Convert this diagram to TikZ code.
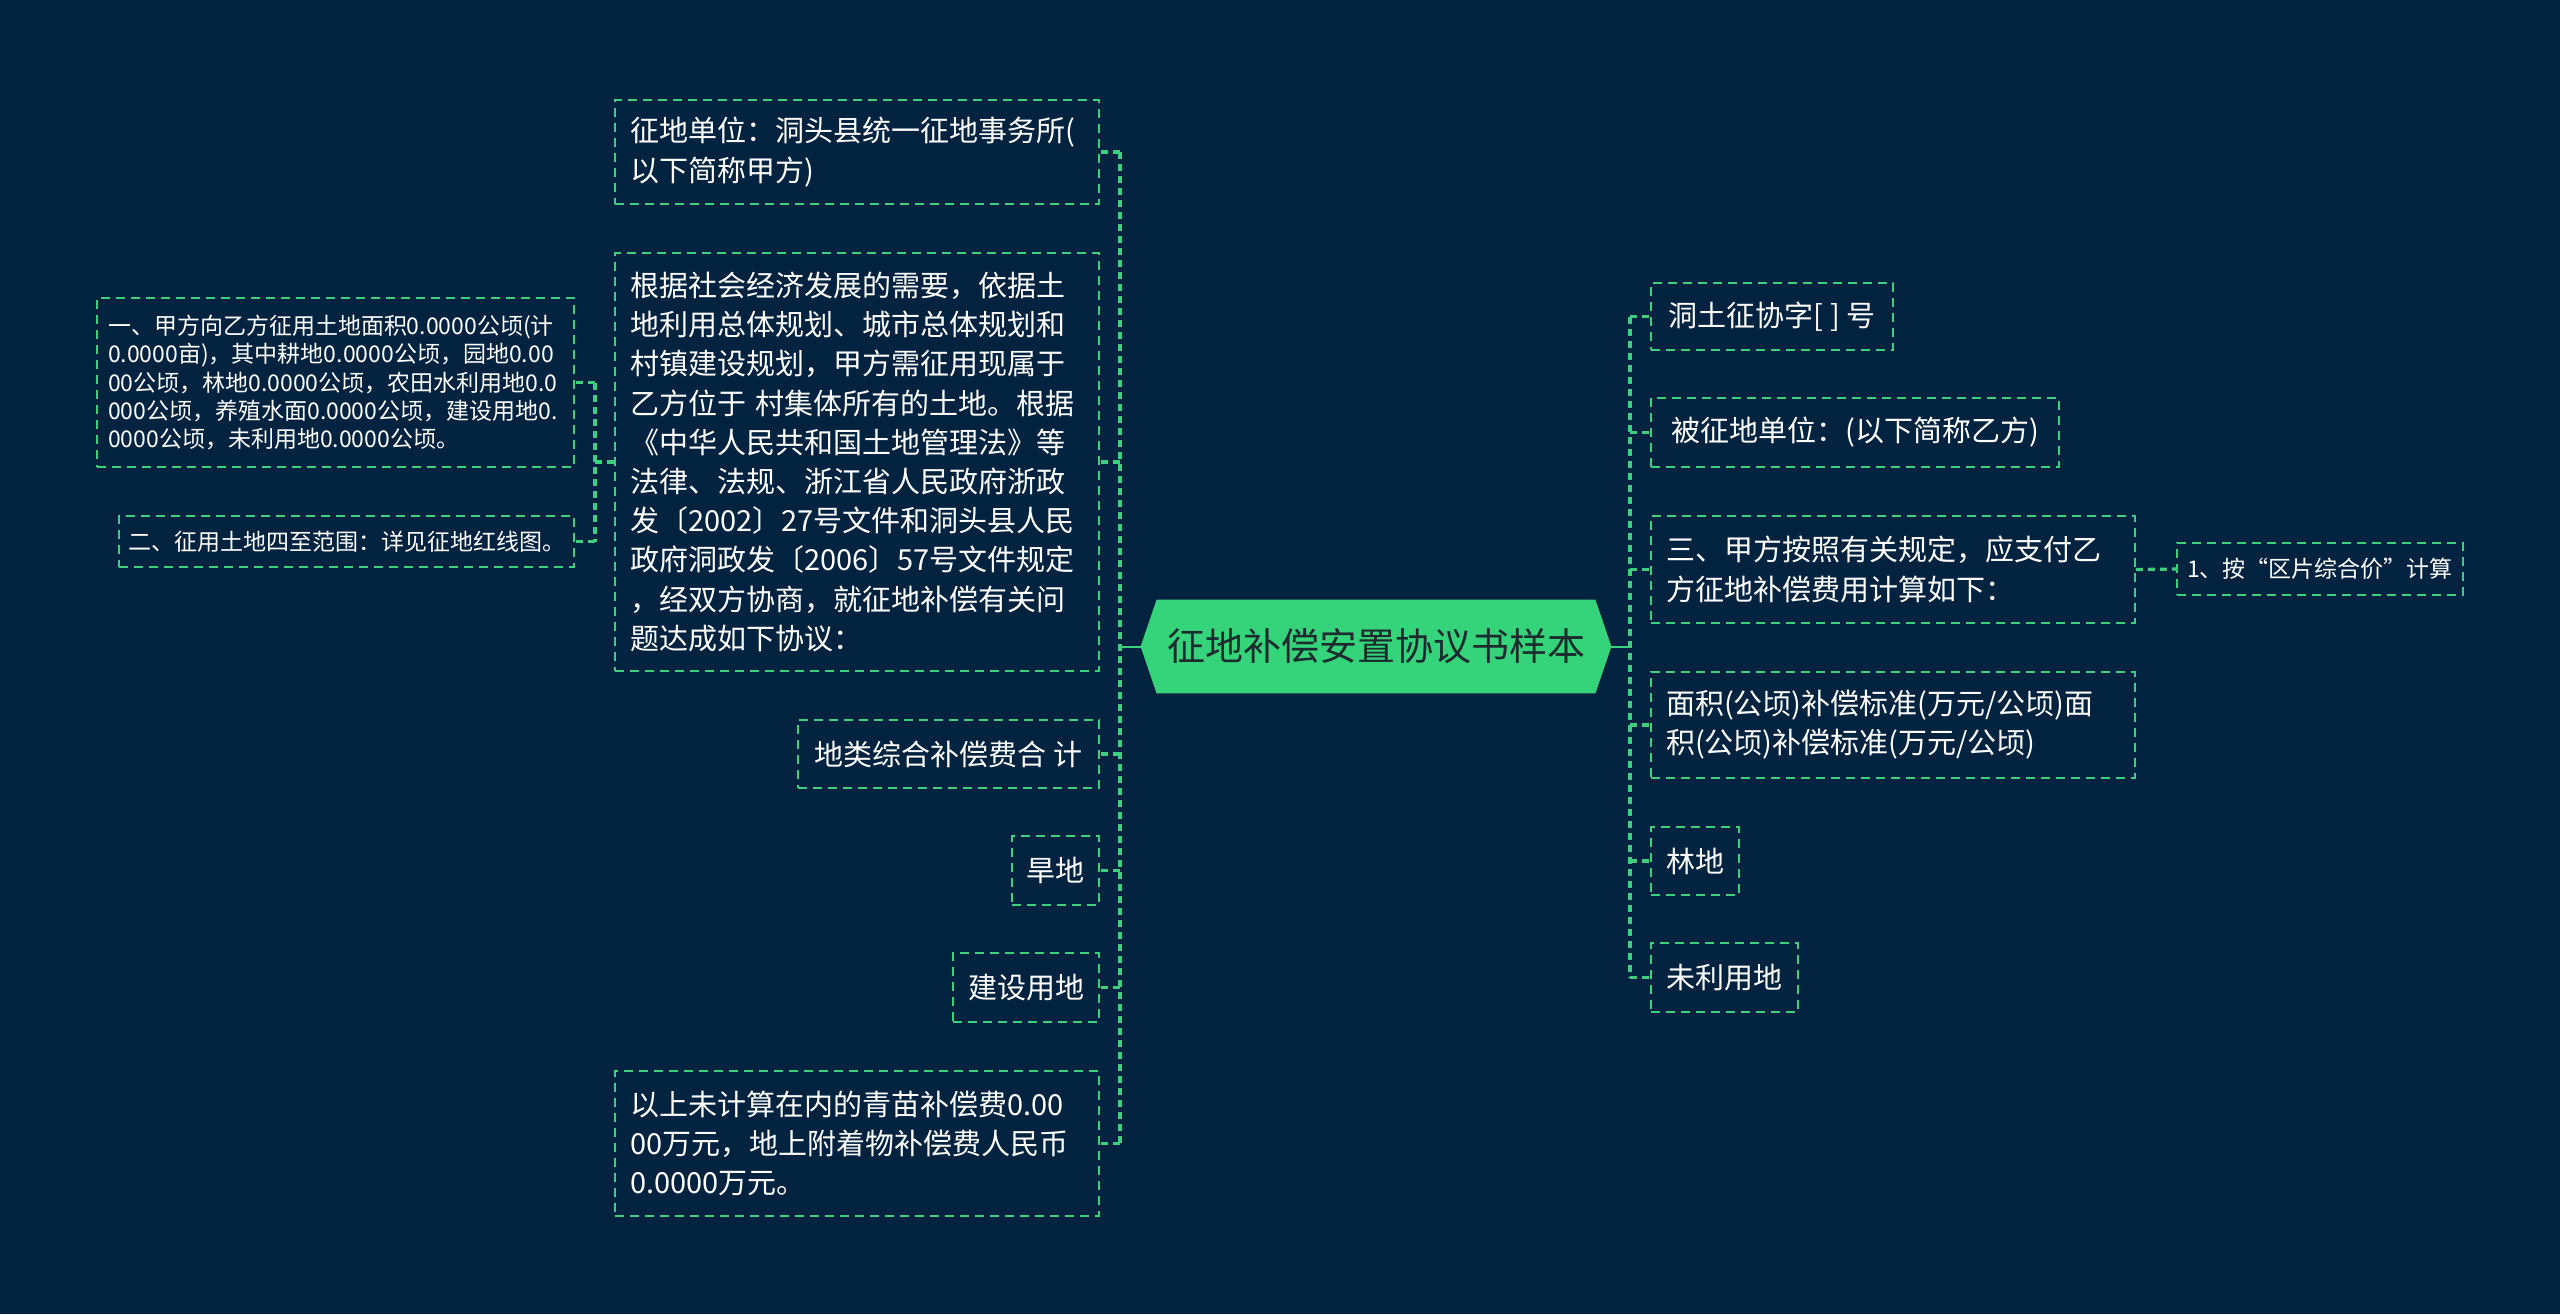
\documentclass[tikz,border=0pt]{standalone}
\usepackage{fontspec}
\setmainfont{Noto Sans CJK SC}
\usetikzlibrary{backgrounds}
\definecolor{bgc}{HTML}{022340}
\definecolor{lineg}{HTML}{3BCF7E}
\definecolor{hexg}{HTML}{35D47B}
\definecolor{hextext}{HTML}{1C2B2E}
\begin{document}
\begin{tikzpicture}[x=0.5pt,y=-0.5pt,
  wh/.style 2 args={minimum width=#1*0.5pt, minimum height=#2*0.5pt},
  box/.style={draw=lineg, line width=0.9pt, dash pattern=on 4.5pt off 3pt, text=white, align=left, inner sep=0pt, font=\fontsize{14.5pt}{19.6pt}\selectfont},
  sbox/.style={box, font=\fontsize{11.5pt}{14.2pt}\selectfont},
  wide/.style={text width=227pt, inner xsep=7.5pt},
  trunk/.style={draw=lineg, line width=1.6pt, dash pattern=on 3.5pt off 2.5pt},
  link/.style={draw=lineg, line width=1pt},
  rootnode/.style={text=hextext, inner sep=0pt, font=\fontsize{19pt}{22pt}\selectfont}
]
\useasboundingbox (0,0) rectangle (2560,1314);

% root
\node[rootnode, wh={470}{93}] (root) at (1376,646.5) {征地补偿安置协议书样本};

% left children
\node[box, wide, wh={484}{104}] (b1) at (857,152) {征地单位：洞头县统一征地事务所(\\以下简称甲方)};
\node[box, wide, wh={484}{418}] (b2) at (857,462) {根据社会经济发展的需要，依据土\\地利用总体规划、城市总体规划和\\村镇建设规划，甲方需征用现属于\\乙方位于~村集体所有的土地。根据\\《中华人民共和国土地管理法》等\\法律、法规、浙江省人民政府浙政\\发〔2002〕27号文件和洞头县人民\\政府洞政发〔2006〕57号文件规定\\，经双方协商，就征地补偿有关问\\题达成如下协议：};
\node[box, wh={301}{68}] (b3) at (948.5,754) {地类综合补偿费合~计};
\node[box, wh={87}{69}] (b4) at (1055.5,870.5) {旱地};
\node[box, wh={146}{69}] (b5) at (1026,987.5) {建设用地};
\node[box, wide, wh={484}{145}] (b6) at (857,1143.5) {以上未计算在内的青苗补偿费0.00\\00万元，地上附着物补偿费人民币\\0.0000万元。};

% grandchildren
\node[sbox, text width=227.5pt, inner xsep=5.5pt, wh={477}{169}] (c1) at (335.5,382.5) {一、甲方向乙方征用土地面积0.0000公顷(计\\0.0000亩)，其中耕地0.0000公顷，园地0.00\\00公顷，林地0.0000公顷，农田水利用地0.0\\000公顷，养殖水面0.0000公顷，建设用地0.\\0000公顷，未利用地0.0000公顷。};
\node[sbox, wh={455}{51}] (c2) at (346.5,541.5) {二、征用土地四至范围：详见征地红线图。};

% right children
\node[box, wh={242}{67}] (r1) at (1772,316.5) {洞土征协字[ ] 号};
\node[box, wh={408}{69}] (r2) at (1855,432.5) {被征地单位：(以下简称乙方)};
\node[box, wide, wh={484}{107}] (r3) at (1893,569.5) {三、甲方按照有关规定，应支付乙\\方征地补偿费用计算如下：};
\node[sbox, wh={286}{52}] (r3a) at (2320,569) {1、按“区片综合价”计算};
\node[box, wide, wh={484}{106}] (r4) at (1893,725) {面积(公顷)补偿标准(万元/公顷)面\\积(公顷)补偿标准(万元/公顷)};
\node[box, wh={88}{68}] (r5) at (1695,861) {林地};
\node[box, wh={147}{69}] (r6) at (1724.5,977.5) {未利用地};

% connectors
\coordinate (LT) at (1120,646.5);
\coordinate (RT) at (1630,646.5);
\coordinate (ST) at (595,462);
\draw[link] (root.west) -- (LT);
\draw[link] (root.east) -- (RT);
\draw[trunk] (LT |- b1.east) -- (LT |- b6.east);
\foreach \n in {b1,b2,b3,b4,b5,b6} \draw[trunk] (LT |- \n.east) -- (\n.east);
\draw[trunk] (RT |- r1.west) -- (RT |- r6.west);
\foreach \n in {r1,r2,r3,r4,r5,r6} \draw[trunk] (RT |- \n.west) -- (\n.west);
\draw[trunk] (b2.west) -- (ST);
\draw[trunk] (ST |- c1.east) -- (ST |- c2.east);
\foreach \n in {c1,c2} \draw[trunk] (ST |- \n.east) -- (\n.east);
\draw[trunk] (r3.east) -- (r3a.west);

\begin{scope}[on background layer]
\fill[bgc] (0,0) rectangle (2560,1314);
\fill[hexg] (root.west) -- ([xshift=8pt]root.north west) -- ([xshift=-8pt]root.north east) -- (root.east) -- ([xshift=-8pt]root.south east) -- ([xshift=8pt]root.south west) -- cycle;
\end{scope}
\end{tikzpicture}
\end{document}
